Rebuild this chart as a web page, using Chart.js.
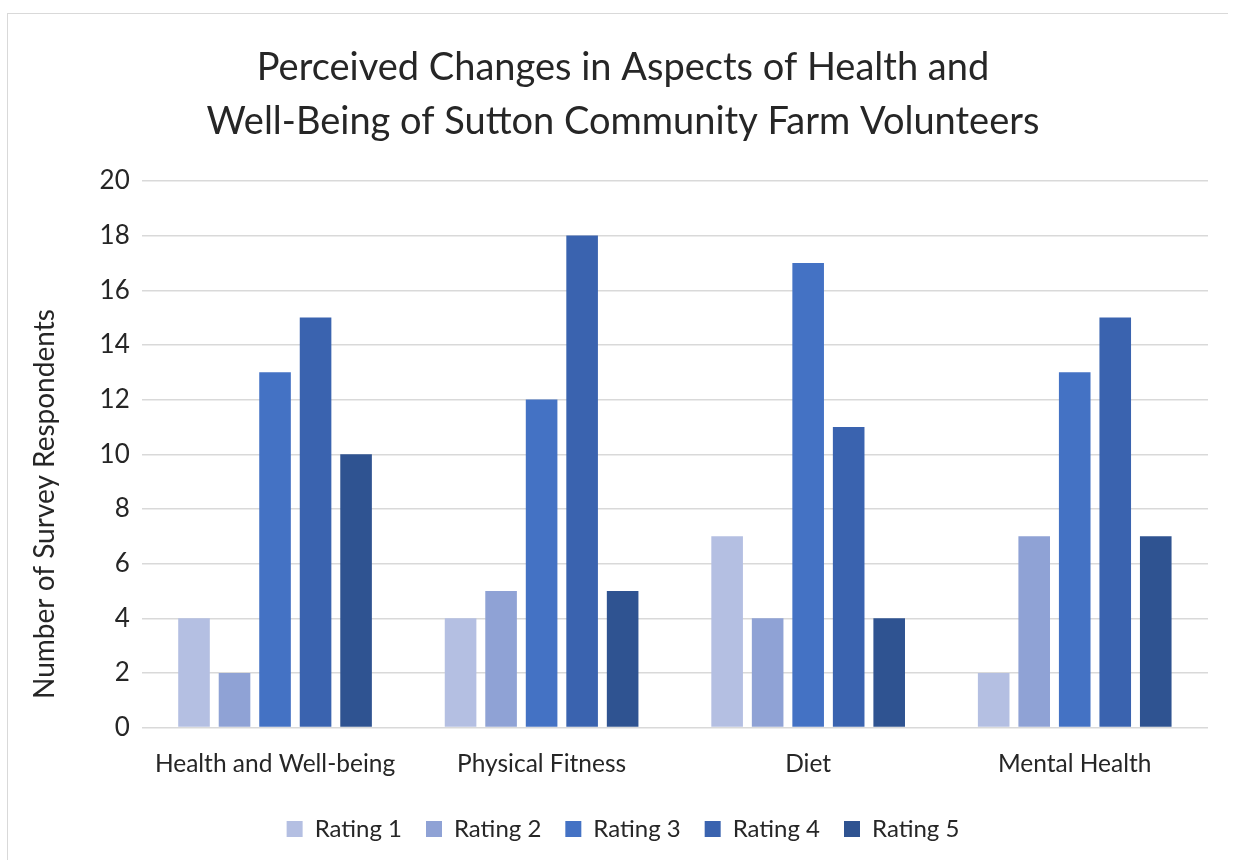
<!DOCTYPE html>
<html>
<head>
<meta charset="utf-8">
<script src="https://cdn.jsdelivr.net/npm/chart.js@4.4.1/dist/chart.umd.min.js"></script>
<style>
  html, body { margin: 0; padding: 0; background: #fff; }
  #wrap { position: absolute; left: 0; top: 0; width: 1235px; height: 861px; }
  #frame { position: absolute; left: 7px; top: 13px; width: 1220px; height: 846px; border: 1px solid #d9d9d9; border-right: none; border-bottom: none; }
  canvas { position: absolute; left: 0; top: 0; }
</style>
</head>
<body>
<div id="wrap">
  <div id="frame"></div>
  <canvas id="myChart" width="1235" height="861"></canvas>
</div>
<script>
// survey results, one array per rating
const categories = ['Health and Well-being', 'Physical Fitness', 'Diet', 'Mental Health'];
const rating1 = [4, 4, 7, 2];
const rating2 = [2, 5, 4, 7];
const rating3 = [13, 12, 17, 13];
const rating4 = [15, 18, 11, 15];
const rating5 = [10, 5, 4, 7];
const seriesNames = ['Rating 1', 'Rating 2', 'Rating 3', 'Rating 4', 'Rating 5'];
const seriesColors = ['#b4bfe2', '#8fa2d5', '#4472c4', '#3a63af', '#2f5391'];

const fontFamily = 'Lato, "Noto Sans", sans-serif';
const textColor = '#262626';

const series = [rating1, rating2, rating3, rating4, rating5];

new Chart(document.getElementById('myChart').getContext('2d'), {
    type: 'bar',
    data: {
        labels: categories,
        datasets: series.map((values, i) => ({
            label: seriesNames[i],
            data: values,
            backgroundColor: seriesColors[i],
            borderWidth: 0,
            categoryPercentage: 0.76,
            barPercentage: 0.78,
        })),
    },
    options: {
        responsive: false,
        animation: false,
        layout: { padding: { left: 38, right: 27, top: 41, bottom: 10 } },
        plugins: {
            title: {
                display: true,
                text: ['Perceived Changes in Aspects of Health and', 'Well-Being of Sutton Community Farm Volunteers'],
                color: textColor,
                font: { family: fontFamily, size: 38, weight: 'normal', lineHeight: 1.42 },
                padding: { top: 0, bottom: 32 },
            },
            legend: {
                position: 'bottom',
                labels: {
                    color: textColor,
                    font: { family: fontFamily, size: 24 },
                    boxWidth: 16,
                    boxHeight: 16,
                    padding: 24,
                },
            },
            tooltip: { enabled: false },
        },
        scales: {
            x: {
                grid: { display: false },
                border: { display: false },
                ticks: { color: textColor, font: { family: fontFamily, size: 24.5 }, padding: 14 },
            },
            y: {
                min: 0,
                max: 20,
                ticks: { stepSize: 2, color: textColor, font: { family: fontFamily, size: 26 }, padding: 12 },
                grid: { color: '#d9d9d9', lineWidth: 1.5, drawTicks: false },
                border: { display: false },
                title: {
                    display: true,
                    align: 'start',
                    // a little lead-in space lifts the label off the bottom of the axis
                    text: '\u00a0\u00a0\u00a0\u00a0Number of Survey Respondents',
                    color: textColor,
                    font: { family: fontFamily, size: 28 },
                    padding: { top: -10, bottom: 26 },
                },
            },
        },
    },
});
</script>
</body>
</html>
